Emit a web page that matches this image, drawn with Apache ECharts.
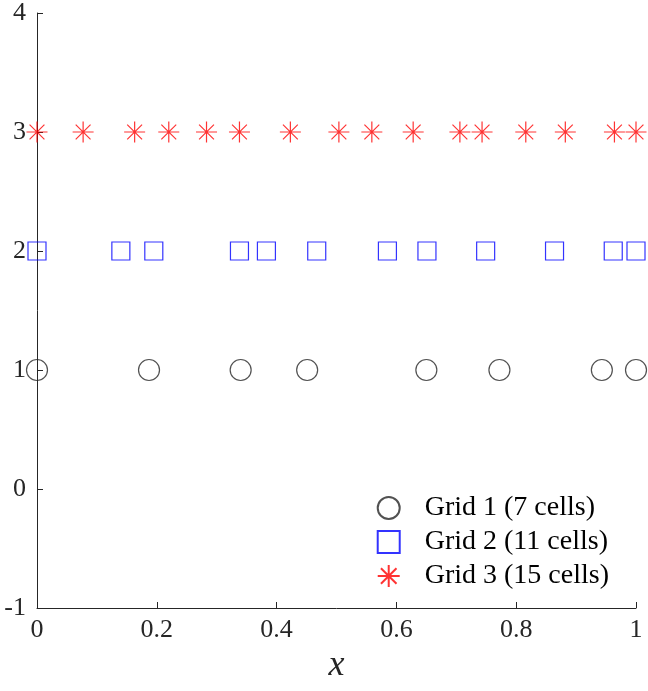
<!DOCTYPE html>
<html>
<head>
<meta charset="utf-8">
<script src="https://cdn.jsdelivr.net/npm/echarts@6/dist/echarts.min.js"></script>
<style>
	html, body{
		margin: 0;
		padding: 0;
		background: #fff;
	}
	#chart_box{
		width: 648px;
		height: 691px;
	}
</style>
</head>
<body>
<div id="chart_box"></div>
<script type="text/javascript">
// node positions
var grid1_x = [0, 0.187, 0.34, 0.451, 0.65, 0.772, 0.943, 1];
var grid2_x = [0, 0.14, 0.195, 0.338, 0.383, 0.467, 0.585, 0.651, 0.749, 0.864, 0.962, 1];
var grid3_x = [0, 0.077, 0.163, 0.22, 0.283, 0.338, 0.423, 0.504, 0.559, 0.628, 0.706, 0.743, 0.816, 0.882, 0.964, 1];
var grid_levels = [1, 2, 3];
var series_names = ['Grid 1 (7 cells)', 'Grid 2 (11 cells)', 'Grid 3 (15 cells)'];

var star = 'path://M0,-1L0,1M-1,0L1,0M-0.707,-0.707L0.707,0.707M-0.707,0.707L0.707,-0.707';
var serif = '"Liberation Serif", "DejaVu Serif", serif';

function pts(xs, level) {
	return xs.map(function(x) { return [x, level]; });
}

var myChart = echarts.init(document.getElementById('chart_box'));

var option = {
	animation: false,
	grid: {
		left: 37,
		right: 12,
		top: 10,
		bottom: 83
	},
	xAxis: {
		type: 'value',
		min: 0,
		max: 1,
		interval: 0.2,
		name: 'x',
		nameLocation: 'middle',
		nameGap: 25,
		nameTextStyle: {
			fontFamily: serif,
			fontStyle: 'italic',
			fontSize: 36,
			color: '#262626'
		},
		splitLine: { show: false },
		axisLine: { onZero: false, lineStyle: { color: '#262626', width: 1 } },
		axisTick: { inside: true, length: 6, lineStyle: { color: '#262626' } },
		axisLabel: {
			fontFamily: serif,
			fontSize: 26,
			color: '#262626',
			margin: 9
		}
	},
	yAxis: {
		type: 'value',
		min: -1,
		max: 4,
		interval: 1,
		splitLine: { show: false },
		axisLine: { lineStyle: { color: '#262626', width: 1 } },
		axisTick: { inside: true, length: 6, lineStyle: { color: '#262626' } },
		axisLabel: {
			fontFamily: serif,
			fontSize: 26,
			color: '#262626',
			margin: 11
		}
	},
	legend: {
		orient: 'vertical',
		right: 34,
		bottom: 96,
		itemGap: 6,
		itemWidth: 22,
		itemHeight: 22,
		textStyle: {
			fontFamily: serif,
			fontSize: 28,
			color: '#000',
			padding: [0, 0, 0, 20]
		},
		data: series_names
	},
	series: [
		{
			name: series_names[0],
			type: 'scatter',
			symbol: 'circle',
			symbolSize: 21,
			itemStyle: { color: 'rgba(0,0,0,0)', borderColor: '#262626', borderWidth: 1.2 },
			data: pts(grid1_x, grid_levels[0])
		},
		{
			name: series_names[1],
			type: 'scatter',
			symbol: 'rect',
			symbolSize: 18,
			itemStyle: { color: 'rgba(0,0,0,0)', borderColor: '#0000ff', borderWidth: 1.2 },
			data: pts(grid2_x, grid_levels[1])
		},
		{
			name: series_names[2],
			type: 'scatter',
			symbol: star,
			symbolSize: 21,
			itemStyle: { color: 'rgba(0,0,0,0)', borderColor: '#ff0000', borderWidth: 1.2 },
			data: pts(grid3_x, grid_levels[2])
		}
	]
};
myChart.setOption(option);
</script>
</body>
</html>
